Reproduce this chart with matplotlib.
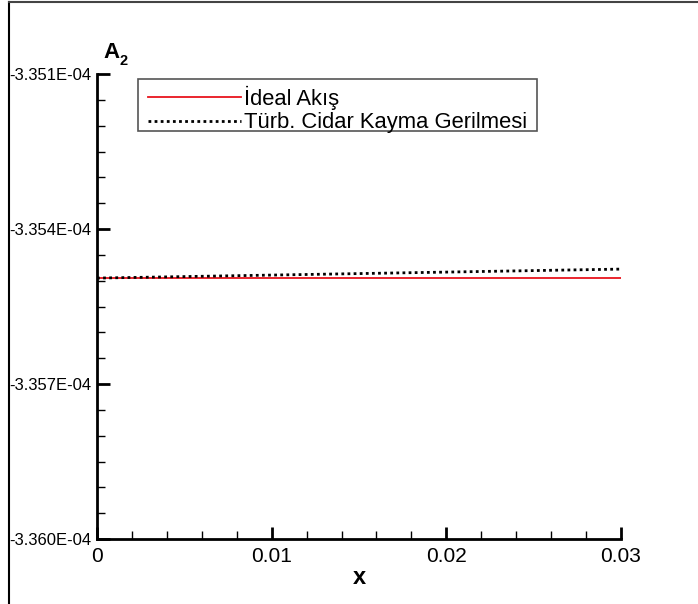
import matplotlib
matplotlib.use("Agg")
import numpy as np
import matplotlib.pyplot as plt
from matplotlib.lines import Line2D
from matplotlib.path import Path
from matplotlib.ticker import FixedLocator

plt.rcParams['font.family'] = ['Liberation Sans', 'DejaVu Sans']

# data
x_ideal = [0.0, 0.03]
a2_ideal = [-3.354950e-4, -3.354950e-4]

x_turb = [0.0, 0.005, 0.01, 0.015, 0.02, 0.025, 0.03]
a2_turb = [-3.354950e-4, -3.354921e-4, -3.354892e-4, -3.354863e-4,
           -3.354834e-4, -3.354805e-4, -3.354776e-4]

label_ideal = "İdeal Akış"
label_turb = "Türb. Cidar Kayma Gerilmesi"

xticks = [0, 0.01, 0.02, 0.03]
xticklabels = ["0", "0.01", "0.02", "0.03"]
yticks = [-3.360e-4, -3.357e-4, -3.354e-4, -3.351e-4]
yticklabels = ["-3.360E-04", "-3.357E-04", "-3.354E-04", "-3.351E-04"]

W, H = 698, 604
fig = plt.figure(figsize=(W / 100, H / 100), dpi=100)
ax = fig.add_axes([97 / W, 1 - 539 / H, (621 - 97) / W, (539 - 74) / H])

l1, = ax.plot(x_ideal, a2_ideal, color='#e8141c', lw=1.3, label=label_ideal)
l2, = ax.plot(x_turb, a2_turb, color='black', lw=2.0, linestyle=(0, (1, 1.2)),
              label=label_turb)

ax.set_xlim(0, 0.03)
ax.set_ylim(yticks[0], yticks[-1])

ax.xaxis.set_major_locator(FixedLocator(xticks))
ax.set_xticklabels(xticklabels)
ax.xaxis.set_minor_locator(FixedLocator(np.linspace(xticks[0], xticks[-1], 16)))
ax.yaxis.set_major_locator(FixedLocator(yticks))
ax.set_yticklabels(yticklabels)
ax.yaxis.set_minor_locator(FixedLocator(np.linspace(yticks[0], yticks[-1], 19)))

for s in ['top', 'right']:
    ax.spines[s].set_visible(False)
for s in ['left', 'bottom']:
    ax.spines[s].set_linewidth(2)

ax.tick_params(axis='both', which='major', direction='in', length=9, width=2)
ax.tick_params(axis='both', which='minor', direction='in', length=5.5, width=1)
ax.tick_params(axis='x', which='major', labelsize=15, pad=6)
ax.tick_params(axis='y', which='major', labelsize=12, pad=4)

# axis title "A2"
ax.text(103 / W, 1 - 58 / H, "A", transform=fig.transFigure, fontsize=16,
        fontweight='bold', ha='left', va='baseline')
ax.text(120 / W, 1 - 65 / H, "2", transform=fig.transFigure, fontsize=10.5,
        fontweight='bold', ha='left', va='baseline')
ax.set_xlabel("x", fontsize=17, fontweight='bold', labelpad=0)

leg = ax.legend(handles=[l1, l2], loc='upper left',
                bbox_to_anchor=(145 / W, 1 - 83.3 / H),
                bbox_transform=fig.transFigure,
                fontsize=15.8, handlelength=4.25, handletextpad=0.15,
                labelspacing=0.1, borderpad=0.12, borderaxespad=0,
                fancybox=False, framealpha=1, edgecolor='#555555')


def legend_box(x0, y0, width, height, mutation_size):
    # wider horizontal padding, frame shifted upward (display pixels)
    px = 0.3 * mutation_size
    top = 0.195 * mutation_size
    bot = 0.21 * mutation_size
    xa, xb = x0 - px, x0 + width + px
    ya, yb = y0 + bot, y0 + height + top
    return Path([(xa, ya), (xb, ya), (xb, yb), (xa, yb), (xa, ya)],
                [Path.MOVETO, Path.LINETO, Path.LINETO, Path.LINETO,
                 Path.CLOSEPOLY])


frame = leg.get_frame()
frame.set_boxstyle(legend_box)
frame.set_linewidth(1.2)

# figure border (left and top)
fig.add_artist(Line2D([9 / W, 9 / W], [0, 1 - 2 / H], transform=fig.transFigure,
                      color='black', lw=1.5))
fig.add_artist(Line2D([9 / W, 1], [1 - 2 / H, 1 - 2 / H], transform=fig.transFigure,
                      color='#444444', lw=1.5))

fig.savefig("out.png", dpi=100)
